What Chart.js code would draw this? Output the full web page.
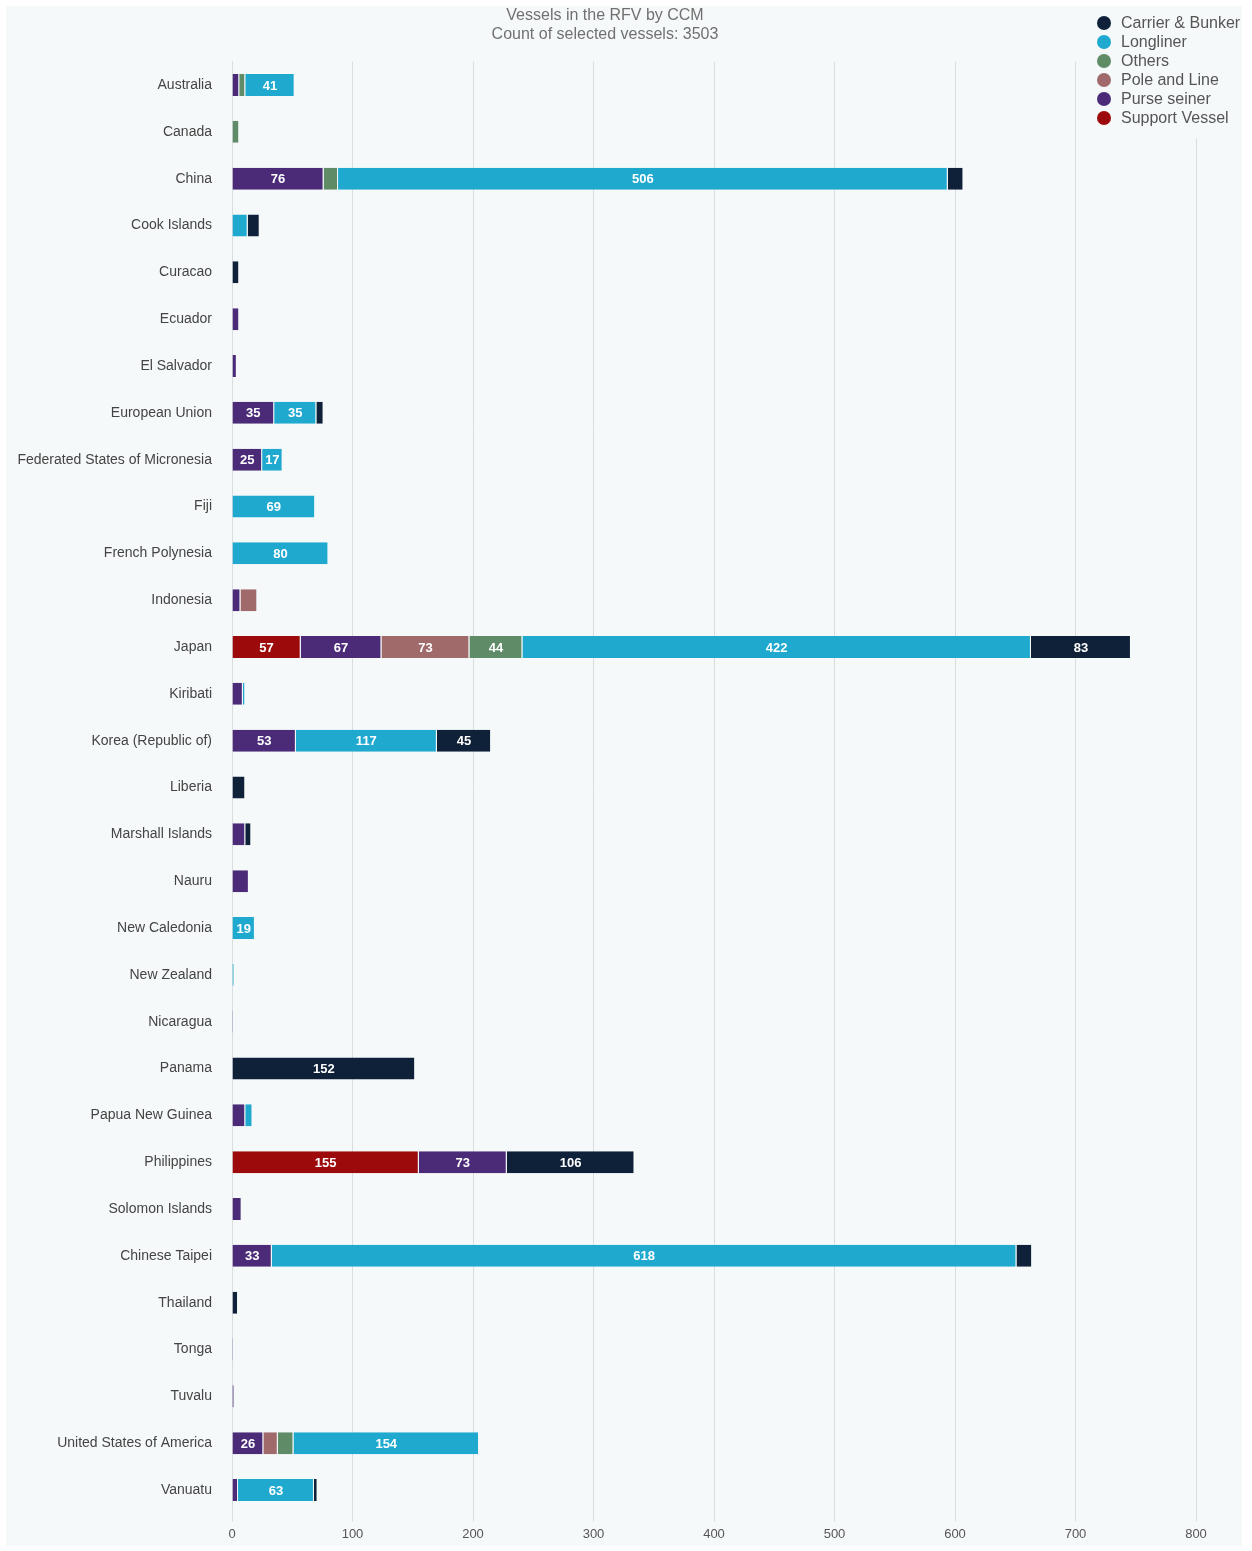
<!DOCTYPE html>
<html lang="en">
<head>
    <meta charset="UTF-8">
    <title>Vessels in the RFV by CCM</title>
<script type="text/javascript" src="https://cdn.jsdelivr.net/npm/chart.js@4.4.1/dist/chart.umd.min.js"></script>
<style>
    body { margin: 0; background: #ffffff; }
    #wrap { position: absolute; left: 6px; top: 6px; width: 1236px; height: 1540px; background: #f6f9fa; }
</style>
</head>
<body>
    <div id="wrap"><canvas id="chart"></canvas></div>
    <script>
        const ccms = ['Australia', 'Canada', 'China', 'Cook Islands', 'Curacao', 'Ecuador', 'El Salvador',
            'European Union', 'Federated States of Micronesia', 'Fiji', 'French Polynesia', 'Indonesia',
            'Japan', 'Kiribati', 'Korea (Republic of)', 'Liberia', 'Marshall Islands', 'Nauru',
            'New Caledonia', 'New Zealand', 'Nicaragua', 'Panama', 'Papua New Guinea', 'Philippines',
            'Solomon Islands', 'Chinese Taipei', 'Thailand', 'Tonga', 'Tuvalu', 'United States of America', 'Vanuatu'];

        //                    Aus Can Chn Coo Cur Ecu ElS EU  FSM Fij FrP Ind Jap Kir Kor Lib Mar Nau NCa NZ Nic Pan PNG Phi Sol Tai Tha Ton Tuv USA Van
        const supportVessel = [0,  0,  0,  0,  0,  0,  0,  0,  0,  0,  0,  0, 57,  0,  0,  0,  0,  0,  0,  0, 0,   0,  0,155,  0,  0,  0,  0,  0,  0,  0];
        const purseSeiner   = [6,  0, 76,  0,  0,  6,  4, 35, 25,  0,  0,  7, 67,  9, 53,  0, 11, 14,  0,  0, 1,   0, 11, 73,  8, 33,  0,  1,  2, 26,  5];
        const poleAndLine   = [0,  0,  0,  0,  0,  0,  0,  0,  0,  0,  0, 14, 73,  0,  0,  0,  0,  0,  0,  0, 0,   0,  0,  0,  0,  0,  0,  0,  0, 12,  0];
        const others        = [5,  6, 12,  0,  0,  0,  0,  0,  0,  0,  0,  0, 44,  0,  0,  0,  0,  0,  0,  0, 0,   0,  0,  0,  0,  0,  0,  0,  0, 13,  0];
        const longliner     = [41, 0,506, 13,  0,  0,  0, 35, 17, 69, 80,  0,422,  2,117,  0,  0,  0, 19,  2, 0,   0,  6,  0,  0,618,  0,  0,  0,154, 63];
        const carrierBunker = [0,  0, 13, 10,  6,  0,  0,  6,  0,  0,  0,  0, 83,  0, 45, 11,  5,  0,  0,  0, 0, 152,  0,106,  0, 13,  5,  0,  0,  0,  3];

        const xTicks = [0, 100, 200, 300, 400, 500, 600, 700, 800];

        const bg = '#f6f9fa';

        // stacking order left to right; legend is listed the other way round
        const series = [
            { label: 'Support Vessel', data: supportVessel, color: '#9c0a0c' },
            { label: 'Purse seiner', data: purseSeiner, color: '#4b2b78' },
            { label: 'Pole and Line', data: poleAndLine, color: '#a06a6b' },
            { label: 'Others', data: others, color: '#5f8b66' },
            { label: 'Longliner', data: longliner, color: '#1fa9cf' },
            { label: 'Carrier & Bunker', data: carrierBunker, color: '#0e2138' }
        ];

        const barLabels = {
            id: 'barLabels',
            afterDatasetsDraw(chart) {
                const ctx = chart.ctx;
                ctx.save();
                ctx.font = 'bold 13px "Liberation Sans", Arial, sans-serif';
                ctx.fillStyle = '#ffffff';
                ctx.textAlign = 'center';
                ctx.textBaseline = 'middle';
                chart.data.datasets.forEach((ds, i) => {
                    const meta = chart.getDatasetMeta(i);
                    meta.data.forEach((bar, j) => {
                        const v = ds.data[j];
                        if (v < 15) return;
                        const p = bar.getCenterPoint();
                        ctx.fillText(v, p.x, p.y + 1);
                    });
                });
                ctx.restore();
            }
        };

        const titleAndLegend = {
            id: 'titleAndLegend',
            afterDraw(chart) {
                const ctx = chart.ctx;
                ctx.save();
                ctx.fillStyle = '#707070';
                ctx.font = '16px "Liberation Sans", Arial, sans-serif';
                ctx.textAlign = 'center';
                ctx.textBaseline = 'middle';
                ctx.fillText('Vessels in the RFV by CCM', 599, 10);
                ctx.fillText('Count of selected vessels: 3503', 599, 29);

                ctx.fillStyle = bg;
                ctx.fillRect(1085, 0, 151, 132);
                ctx.font = '16px "Liberation Sans", Arial, sans-serif';
                ctx.textAlign = 'left';
                const items = series.slice().reverse();
                items.forEach((s, k) => {
                    const y = 17 + k * 19;
                    ctx.fillStyle = s.color;
                    ctx.beginPath();
                    ctx.arc(1098, y, 7, 0, Math.PI * 2);
                    ctx.fill();
                    ctx.fillStyle = '#555555';
                    ctx.fillText(s.label, 1115, y + 1);
                });
                ctx.restore();
            }
        };

        new Chart(document.getElementById('chart'), {
            type: 'bar',
            data: {
                labels: ccms,
                datasets: series.map(s => ({
                    label: s.label,
                    data: s.data,
                    backgroundColor: s.color,
                    borderColor: bg,
                    borderWidth: { left: 0, right: 1, top: 0, bottom: 0 },
                    borderSkipped: false,
                    barPercentage: 0.47,
                    categoryPercentage: 1
                }))
            },
            options: {
                indexAxis: 'y',
                responsive: true,
                maintainAspectRatio: false,
                animation: false,
                layout: { padding: { top: 55.6, right: 46, bottom: 0, left: 0 } },
                plugins: {
                    legend: { display: false },
                    title: { display: false },
                    tooltip: { enabled: false }
                },
                scales: {
                    x: {
                        stacked: true,
                        min: 0,
                        max: 800,
                        afterBuildTicks: axis => { axis.ticks = xTicks.map(v => ({ value: v })); },
                        afterFit: axis => { axis.height = 32.6; },
                        grid: { color: '#d9dde0', lineWidth: 1, tickLength: 8 },
                        border: { display: false },
                        ticks: {
                            color: '#555555',
                            padding: 5,
                            font: { size: 13, family: '"Liberation Sans", Arial, sans-serif' }
                        }
                    },
                    y: {
                        stacked: true,
                        afterFit: axis => { axis.width = 226; },
                        grid: { display: false, drawTicks: false },
                        border: { display: true, color: '#d9dde0' },
                        ticks: {
                            color: '#444444',
                            padding: 20,
                            autoSkip: false,
                            font: { size: 14, family: '"Liberation Sans", Arial, sans-serif' }
                        }
                    }
                }
            },
            plugins: [barLabels, titleAndLegend]
        });
    </script>
</body>
</html>
